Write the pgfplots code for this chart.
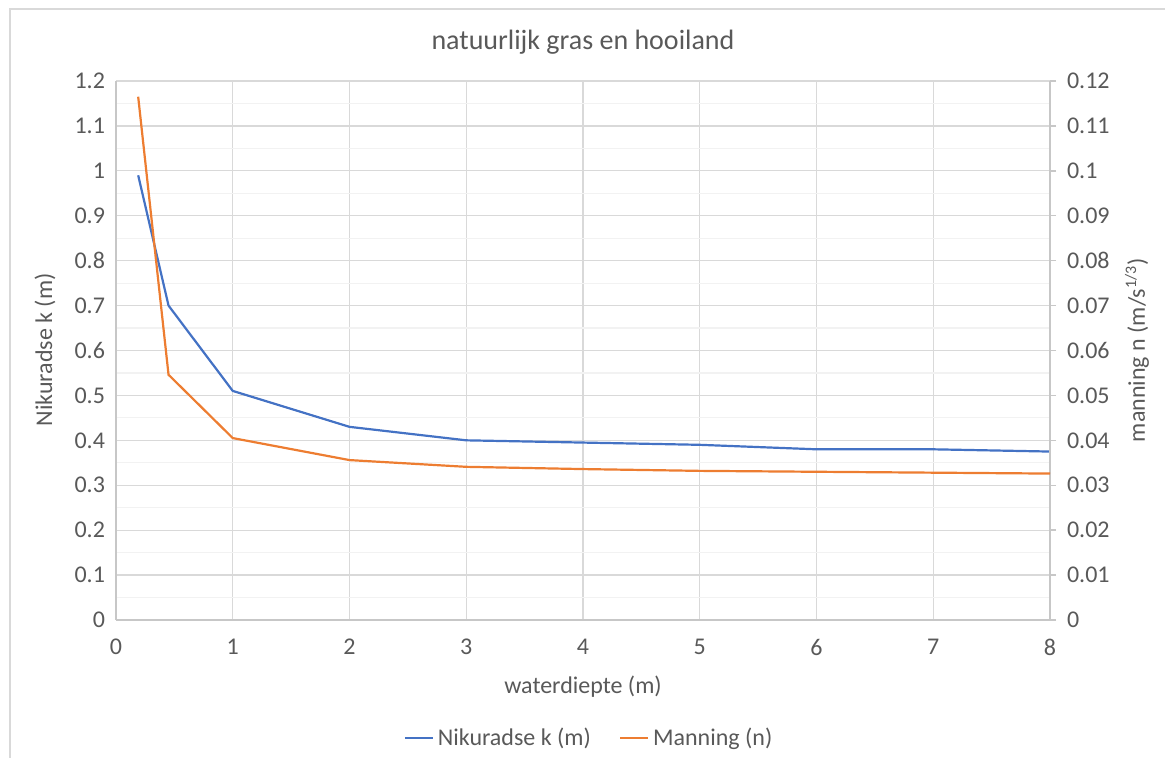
\documentclass[border=0pt]{standalone}
\usepackage{fontspec}
\setmainfont{Carlito}
\usepackage{pgfplots}
\pgfplotsset{compat=1.18}
\definecolor{txt}{HTML}{595959}
\definecolor{gmaj}{HTML}{D9D9D9}
\definecolor{gmin}{HTML}{F2F2F2}
\definecolor{cblue}{HTML}{4472C4}
\definecolor{corange}{HTML}{ED7D31}
\begin{document}
\begin{tikzpicture}
\useasboundingbox (0,0) rectangle (582.5pt,379pt);
\draw[gmaj,line width=0.6pt] (5pt,0) -- (5pt,374.5pt) -- (582.5pt,374.5pt);
\pgfplotsset{
  common/.style={
    at={(58pt,69pt)}, anchor=south west, scale only axis,
    width=467pt, height=269.5pt,
    xmin=0, xmax=8,
    /pgf/number format/assume math mode=true,
    tick label style={font=\fontsize{12}{14}\selectfont, text=txt},
    scaled y ticks=false,
  }
}
\begin{axis}[common,
  ymin=0, ymax=1.2,
  xtick={0,1,2,3,4,5,6,7,8},
  ytick={0,0.1,0.2,0.3,0.4,0.5,0.6,0.7,0.8,0.9,1,1.1,1.2},
  minor y tick num=1,
  grid=both,
  major grid style={gmaj, line width=0.6pt},
  minor grid style={gmin, line width=0.6pt},
  axis x line*=bottom, axis y line*=left,
  axis line style={-, gmaj!80!gray, line width=0.7pt},
  major tick length=0pt, minor tick length=0pt,
  xticklabel style={yshift=-6pt},
  yticklabel style={xshift=-2pt},
]
\addplot[cblue, line width=1.1pt] coordinates {
 (0.19,0.99) (0.45,0.70) (1,0.51) (2,0.43) (3,0.40) (4,0.395) (5,0.39) (6,0.38) (7,0.38) (8,0.375)};
\end{axis}
\begin{axis}[common,
  ymin=0, ymax=0.12,
  axis y line*=right, axis x line=none,
  ytick={0,0.01,0.02,0.03,0.04,0.05,0.06,0.07,0.08,0.09,0.1,0.11,0.12},
  yticklabel style={/pgf/number format/fixed, /pgf/number format/precision=2, xshift=2pt},
  axis line style={-, gmaj!80!gray, line width=0.7pt},
  y tick style={gmaj!80!gray, line width=0.7pt},
  major tick length=3pt,
  tick align=outside,
  legend columns=2,
  legend style={at={(0.5075,-0.219)}, anchor=center, draw=none, fill=none,
    font=\fontsize{12}{14}\selectfont, text=txt,
    /tikz/every even column/.append style={column sep=12pt}},
  legend cell align=left,
  legend image code/.code={\draw[#1] (0pt,0pt) -- (14pt,0pt);},
]
\addlegendimage{cblue, line width=1.1pt}
\addlegendentry{Nikuradse k (m)}
\addplot[corange, line width=1.1pt] coordinates {
 (0.19,0.1165) (0.45,0.0546) (1,0.0405) (2,0.0356) (3,0.0341) (4,0.0336) (5,0.0332) (6,0.0330) (7,0.0328) (8,0.0326)};
\addlegendentry{Manning (n)}
\end{axis}
\node[text=txt, font=\fontsize{14}{16}\selectfont] at (291.5pt,358pt) {natuurlijk gras en hooiland};
\node[text=txt, font=\fontsize{12}{14}\selectfont] at (291.5pt,35.5pt) {waterdiepte (m)};
\node[text=txt, font=\fontsize{12}{14}\selectfont, rotate=90] at (22.5pt,204pt) {Nikuradse k (m)};
\node[text=txt, font=\fontsize{12}{14}\selectfont, rotate=90] at (568.5pt,204pt) {manning n (m/s\textsuperscript{1/3})};
\end{tikzpicture}
\end{document}
